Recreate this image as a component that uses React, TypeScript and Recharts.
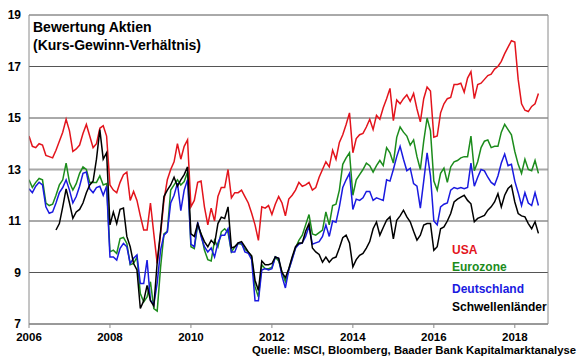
import { LineChart, Line, XAxis, YAxis, CartesianGrid, ReferenceLine } from "recharts";

const FONT = '"Liberation Sans", Arial, sans-serif';
const START_YEAR = 2006;
const X_END = 2018.82;
const yearTicks = [2006, 2008, 2010, 2012, 2014, 2016, 2018];
const peTicks = [7, 9, 11, 13, 15, 17, 19];

// monthly KGV, Jan 2006 - Aug 2018
const usa = [
  14.3, 13.9, 13.85, 14.0, 13.95, 13.55, 13.5, 13.45, 13.75, 14.1, 14.45, 14.95,
  14.5, 13.7, 13.8, 13.95, 14.4, 14.75, 14.3, 13.85, 14.0, 14.6, 14.7, 14.3,
  12.4, 12.2, 12.1, 12.5, 12.8, 12.9, 11.8, 12.15, 11.8, 11.2, 10.65, 10.65,
  11.7, 10.5, 9.35, 10.5, 11.8, 12.6, 13.0, 13.3, 14.0, 13.4, 13.9, 14.15,
  11.55, 11.8, 12.5, 12.55, 11.55, 10.85, 11.5, 11.0, 11.95, 12.3, 12.3, 13.0,
  11.9, 12.1, 12.1, 12.2, 11.95, 11.7, 11.3, 10.85, 10.25, 11.55, 11.5, 11.6,
  11.25, 11.65, 11.95, 11.7, 11.2, 11.85, 12.0, 12.2, 12.5, 12.35, 12.4, 12.5,
  12.2, 12.3, 12.7, 13.0, 13.3, 13.1, 13.75, 13.4, 14.05, 14.35, 14.75, 15.2,
  13.65, 14.2, 14.35, 14.4, 14.65, 14.95, 14.55, 15.1, 14.95, 15.4, 15.75, 16.15,
  14.9, 15.7, 15.55, 15.75, 15.9, 15.65, 15.95, 15.35, 14.85, 15.75, 16.2, 16.05,
  14.25, 14.3, 15.2, 15.55, 15.75, 15.8, 16.3, 16.3, 16.35, 16.0, 16.55, 16.8,
  15.75, 16.3, 16.35, 16.5, 16.65, 16.7, 16.9, 17.0, 17.2, 17.5, 17.75, 18.0,
  17.95, 16.5, 15.55, 15.3, 15.25, 15.45, 15.55, 15.95,
];

const eurozone = [
  12.6, 12.3, 12.5, 12.65, 12.6, 11.7, 11.6, 11.65, 12.0, 12.4, 12.6, 13.25,
  12.5, 12.2, 12.45, 12.85, 13.1, 13.0, 12.5, 12.5, 12.5, 12.75, 12.4, 12.45,
  9.8, 9.87, 9.74, 10.32, 10.36, 10.13, 9.3, 9.35, 9.6, 8.18, 7.86, 8.05,
  8.64, 7.6, 7.5, 9.2, 10.5, 10.6, 12.2, 12.4, 12.6, 12.4, 12.53, 12.9,
  10.0, 9.93, 10.85, 10.5, 9.87, 9.5, 9.45, 10.25, 10.0, 10.58, 10.7, 10.55,
  9.8, 10.0, 10.13, 10.1, 9.9, 9.8, 9.6, 8.45, 8.05, 9.3, 9.15, 9.15,
  9.2, 9.6, 9.45, 9.0, 8.65, 9.1, 9.55, 9.95, 10.25, 10.45, 10.85, 11.25,
  10.5, 10.45, 10.55, 10.65, 11.35, 10.85, 11.6, 11.65, 12.2, 13.2, 13.45, 13.65,
  12.0, 12.6, 12.8, 13.0, 13.25, 13.15, 12.9, 13.15, 13.35, 13.15, 13.85, 13.65,
  13.25, 14.25, 14.65, 14.45, 14.3, 13.95, 14.15, 13.5, 13.0, 14.1, 15.0, 14.5,
  12.55, 12.2, 12.85, 13.05, 12.5, 13.1, 13.3, 13.35, 13.45, 13.5, 13.5, 14.3,
  12.95, 13.3, 13.85, 14.1, 14.15, 13.85, 13.9, 13.9, 14.45, 14.75, 14.55, 14.35,
  13.7, 13.2, 12.85, 13.4, 13.0, 12.95, 13.35, 12.85,
];

const deutschland = [
  12.25, 12.1, 12.35, 12.5, 12.4, 11.55, 11.3, 11.35, 11.7, 12.1, 12.3, 12.6,
  12.2, 11.7, 11.95, 12.35, 12.85, 12.9, 12.25, 12.1, 12.3, 12.35, 12.0, 12.35,
  9.6, 9.6, 9.48, 9.94, 10.13, 10.0, 9.35, 9.55, 9.68, 8.57, 8.57, 9.48,
  7.92, 7.75, 8.6, 9.87, 10.45, 10.58, 11.7, 12.0, 12.47, 11.4, 12.2, 12.6,
  10.1, 10.0, 10.95, 10.4, 10.0, 9.8, 9.95, 9.6, 10.15, 10.45, 10.45, 10.7,
  9.8, 9.8, 10.15, 10.15, 9.8, 9.75, 9.5, 7.9, 7.9, 9.1, 9.15, 9.1,
  9.15, 9.6, 9.55, 8.85, 8.4, 9.1, 9.5, 9.95, 10.1, 10.15, 10.4, 10.8,
  10.1, 10.15, 10.2, 10.4, 10.85, 10.4, 11.0, 10.95, 11.55, 12.3, 12.6, 12.85,
  11.45, 11.85, 11.8, 11.9, 12.15, 12.15, 11.8, 11.9, 11.85, 11.8, 12.6, 12.55,
  13.0, 13.5, 13.9, 13.4, 12.95, 13.05, 12.45, 12.35, 11.5, 12.55, 13.65, 12.75,
  11.0, 10.85, 11.55, 11.65, 11.7, 12.2, 12.3, 12.25, 12.3, 12.25, 12.3, 13.25,
  12.35, 12.7, 13.0, 12.95, 12.7, 12.5, 12.4, 12.75, 13.25, 13.6, 13.15, 13.2,
  12.55, 12.1, 11.6, 12.1, 11.7, 11.6, 12.1, 11.6,
];

const schwellen = [
  null, null, null, null, null, null, null, null, 10.65, 10.9, 11.55, 12.25,
  11.7, 11.1, 11.35, 11.45, 11.7, 12.1, 12.4, 12.55, 13.4, 14.55, 13.4, 13.65,
  10.85, 11.35, 10.9, 11.45, 11.5, 10.4, 10.0, 9.35, 9.1, 7.6, 7.9, 8.5,
  7.9, 7.7, 9.4, 10.6, 11.95, 12.2, 12.4, 12.7, 12.35, 12.6, 12.8, 13.1,
  10.5, 10.4, 10.9, 10.5, 10.2, 10.0, 10.25, 10.1, 10.9, 11.15, 11.1, 11.55,
  9.95, 10.0, 10.15, 10.2, 10.0, 9.8, 9.65, 8.7, 8.3, 9.45, 9.3, 9.3,
  9.35, 9.6, 9.55, 9.0, 8.8, 9.15, 9.6, 10.0, 10.15, 10.15, 10.6, 10.9,
  9.95, 9.8, 9.7, 9.4, 9.6, 9.4, 9.55, 9.6, 9.95, 10.35, 10.45, 10.15,
  9.22, 9.5, 9.67, 9.74, 9.95, 10.2, 10.7, 10.96, 10.45, 10.75, 11.03, 11.16,
  10.31, 11.03, 11.2, 11.42, 11.16, 10.97, 10.6, 10.26, 10.45, 10.84, 10.9, 10.9,
  9.86, 10.0, 10.7, 10.77, 11.0, 11.29, 11.74, 11.85, 11.93, 12.0, 11.8, 11.67,
  10.97, 11.1, 11.16, 11.22, 11.42, 11.55, 11.74, 12.06, 11.55, 12.0, 12.26, 12.38,
  11.74, 11.29, 11.2, 11.16, 10.9, 10.7, 10.97, 10.52,
];

const series = [
  { key: "usa", name: "USA", color: "#e3141c", values: usa },
  { key: "eurozone", name: "Eurozone", color: "#1c8c1c", values: eurozone },
  { key: "deutschland", name: "Deutschland", color: "#1a1ae0", values: deutschland },
  { key: "schwellen", name: "Schwellenländer", color: "#000000", values: schwellen },
];

const data = usa.map((_, i) => {
  const row: Record<string, number | null> = { t: START_YEAR + i / 12 };
  series.forEach((s) => {
    row[s.key] = s.values[i];
  });
  return row;
});

const legendTops = [243, 259.5, 282, 299.5];

export default function App() {
  return (
    <div
      style={{
        position: "absolute",
        left: 0,
        top: 0,
        width: 580,
        height: 358,
        background: "#fff",
        fontFamily: FONT,
      }}
    >
      <LineChart
        width={580}
        height={358}
        data={data}
        margin={{ top: 15, right: 32, bottom: 4, left: 0 }}
      >
        <CartesianGrid vertical={false} stroke="#555" />
        <XAxis
          dataKey="t"
          type="number"
          domain={[START_YEAR, X_END]}
          ticks={yearTicks}
          allowDataOverflow
          height={30}
          axisLine={{ stroke: "#8a8a8a" }}
          tickLine={{ stroke: "#8a8a8a" }}
          tickSize={4}
          tickMargin={5}
          tick={{ fontSize: 11.5, fontWeight: 700, fill: "#000", fontFamily: FONT }}
        />
        <YAxis
          domain={[7, 19]}
          ticks={peTicks}
          width={29}
          axisLine={{ stroke: "#8a8a8a" }}
          tickLine={false}
          tickSize={0}
          tickMargin={8}
          tick={{ fontSize: 12, fontWeight: 700, fill: "#000", fontFamily: FONT }}
        />
        <ReferenceLine y={13} stroke="#a8a8a8" strokeWidth={2} />
        <ReferenceLine x={X_END} stroke="#8a8a8a" />
        {series.map((s) => (
          <Line
            key={s.key}
            dataKey={s.key}
            name={s.name}
            stroke={s.color}
            strokeWidth={1.5}
            dot={false}
            type="linear"
            isAnimationActive={false}
          />
        ))}
      </LineChart>

      <div
        style={{
          position: "absolute",
          left: 33,
          top: 19,
          fontSize: 14,
          fontWeight: 700,
          lineHeight: "17.5px",
          color: "#000",
        }}
      >
        Bewertung Aktien
        <br />
        (Kurs-Gewinn-Verhältnis)
      </div>

      {series.map((s, i) => (
        <div
          key={s.key}
          style={{
            position: "absolute",
            left: 452,
            top: legendTops[i],
            fontSize: 12,
            fontWeight: 700,
            lineHeight: "14px",
            color: s.color,
          }}
        >
          {s.name}
        </div>
      ))}

      <div
        style={{
          position: "absolute",
          right: 4,
          top: 343,
          fontSize: 11.3,
          fontWeight: 700,
          lineHeight: "14px",
          color: "#000",
          whiteSpace: "nowrap",
        }}
      >
        Quelle: MSCI, Bloomberg, Baader Bank Kapitalmarktanalyse
      </div>
    </div>
  );
}
